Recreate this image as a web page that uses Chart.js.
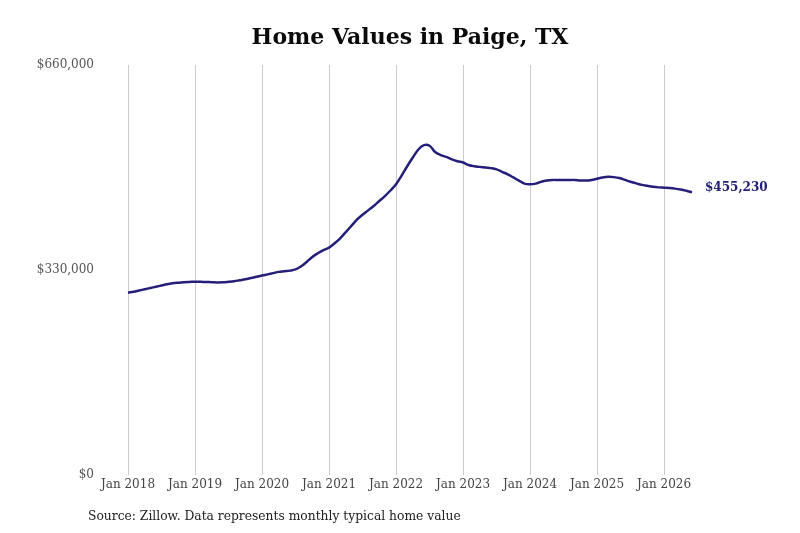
<!DOCTYPE html>
<html>
<head>
<meta charset="utf-8">
<script src="https://cdn.jsdelivr.net/npm/chart.js@4"></script>
<style>
  html, body { margin: 0; padding: 0; background: #fff; }
  #wrap { width: 800px; height: 533px; position: relative; }
</style>
</head>
<body>
<div id="wrap"><canvas id="grafico"></canvas></div>
<script>
// Dados (valor típico mensal, jan 2018 - jun 2026)
const anos = [2018, 2019, 2020, 2021, 2022, 2023, 2024, 2025, 2026];
const meses = ["Jan", "Feb", "Mar", "Apr", "May", "Jun", "Jul", "Aug", "Sep", "Oct", "Nov", "Dec"];

const valores2018 = [293500, 295000, 297000, 299000, 301000, 303000, 305000, 307000, 308500, 309500, 310300, 310800];
const valores2019 = [311200, 311000, 310700, 310300, 310000, 310200, 311000, 312000, 313500, 315000, 317000, 319000];
const valores2020 = [321000, 323000, 325000, 327000, 328000, 329000, 331000, 336000, 343000, 351000, 357000, 362000];
const valores2021 = [366000, 373000, 381000, 391000, 401000, 411000, 419000, 426000, 433000, 441000, 449000, 458000];
const valores2022 = [468000, 482000, 497000, 511000, 524000, 531000, 530000, 520000, 515000, 512000, 508000, 505000];
const valores2023 = [503000, 499000, 497000, 496000, 495000, 494000, 492000, 488000, 484000, 479000, 474000, 469000];
const valores2024 = [468000, 469000, 472000, 474000, 475000, 475000, 475000, 475000, 475000, 474000, 474000, 475000];
const valores2025 = [477000, 479000, 480000, 479500, 478000, 475000, 472000, 469500, 467000, 465500, 464000, 463000];
const valores2026 = [462500, 462000, 461000, 459500, 457500, 455230];

const valores = [].concat(valores2018, valores2019, valores2020, valores2021, valores2022,
  valores2023, valores2024, valores2025, valores2026);

const categorias = [];
anos.forEach(a => meses.forEach(m => categorias.push(m + " " + a)));
categorias.length = valores.length;

const ticksY = [0, 330000, 660000];
const titulo = "Home Values in Paige, TX";
const fonte = "Source: Zillow. Data represents monthly typical home value";
const corLinha = "#24207a";

const textos = {
  id: "textos",
  afterDraw(chart) {
    const ctx = chart.ctx;
    ctx.save();
    ctx.textBaseline = "middle";
    // titulo
    ctx.font = 'bold 22px "DejaVu Serif"';
    ctx.fillStyle = "#0a0a0a";
    ctx.textAlign = "center";
    ctx.fillText(titulo, 410, 38);
    // rotulo do ultimo ponto
    const meta = chart.getDatasetMeta(0);
    const ultimo = meta.data[meta.data.length - 1];
    ctx.font = 'bold 12px "DejaVu Serif"';
    ctx.fillStyle = corLinha;
    ctx.textAlign = "left";
    ctx.fillText("$" + valores[valores.length - 1].toLocaleString("en-US"), ultimo.x + 13, ultimo.y - 4);
    // fonte
    ctx.font = '12.3px "DejaVu Serif"';
    ctx.fillStyle = "#222";
    ctx.fillText(fonte, 88, 517);
    ctx.restore();
  }
};

const ctx = document.getElementById("grafico").getContext("2d");
new Chart(ctx, {
  type: "line",
  data: {
    labels: categorias,
    datasets: [{
      data: valores,
      borderColor: corLinha,
      borderWidth: 2.5,
      pointRadius: 0,
      tension: 0.4,
      fill: false
    }]
  },
  options: {
    responsive: true,
    maintainAspectRatio: false,
    animation: false,
    layout: { padding: { top: 65, left: 0, right: 108, bottom: 28 } },
    plugins: { legend: { display: false }, title: { display: false }, tooltip: { enabled: false } },
    scales: {
      x: {
        type: "category",
        offset: false,
        border: { display: false },
        grid: { color: "#cccccc", lineWidth: 1, drawTicks: false },
        ticks: {
          autoSkip: false,
          maxRotation: 0,
          minRotation: 0,
          padding: 3,
          color: "#444",
          font: { family: "DejaVu Serif", size: 12 },
          callback: function (v, i) {
            const lab = categorias[i];
            return lab.startsWith("Jan") ? lab : null;
          }
        },
        afterFit: s => { s.height = 30; }
      },
      y: {
        min: 0,
        max: 660000,
        border: { display: false },
        grid: { display: false, drawTicks: false },
        afterBuildTicks: s => { s.ticks = ticksY.map(v => ({ value: v })); },
        ticks: {
          padding: 34,
          color: "#555",
          font: { family: "DejaVu Serif", size: 12 },
          callback: v => "$" + v.toLocaleString("en-US")
        },
        afterFit: s => { s.width = 128; }
      }
    }
  },
  plugins: [textos]
});
</script>
</body>
</html>
